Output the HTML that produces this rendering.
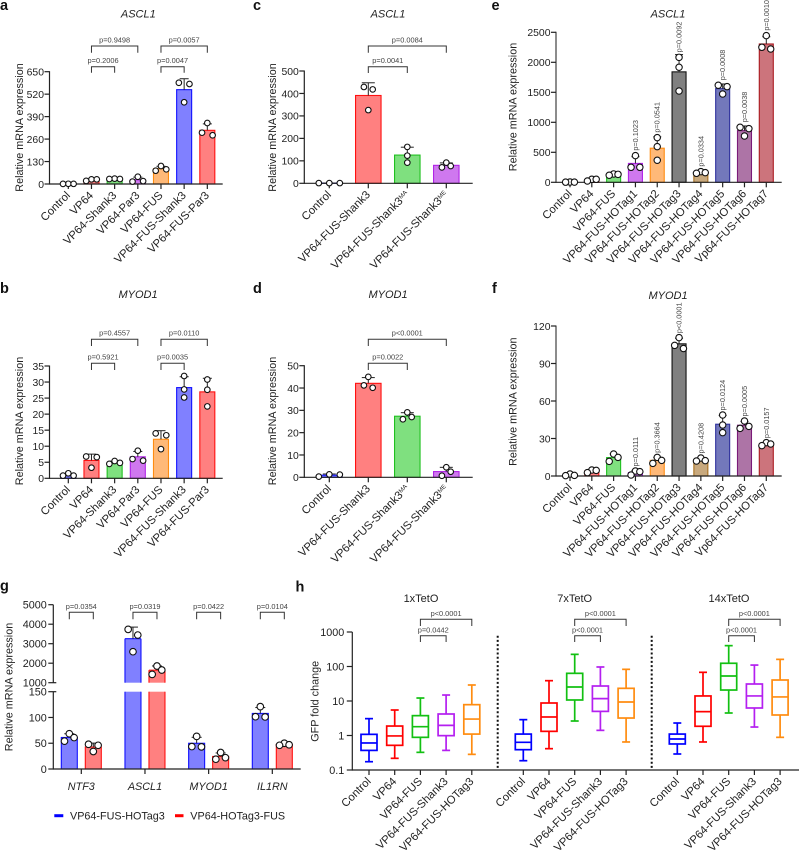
<!DOCTYPE html>
<html lang="en">
<head>
<meta charset="utf-8">
<title>Relative mRNA expression figure</title>
<style>
html,body{margin:0;padding:0;background:#fff;}
svg{display:block;font-family:"Liberation Sans",Arial,sans-serif;}
text{fill:#222;}
.letter{font-size:14.5px;font-weight:bold;fill:#111;}
.title{font-size:11px;font-style:italic;text-anchor:middle;}
.title-plain{font-size:11px;text-anchor:middle;}
</style>
</head>
<body>
<svg id="figure" width="799" height="853" viewBox="0 0 799 853" xmlns="http://www.w3.org/2000/svg">
  <rect width="799" height="853" fill="#fff"/>
  <text class="letter" x="0" y="10">a</text>
  <text class="letter" x="253" y="10">c</text>
  <text class="letter" x="491.5" y="10">e</text>
  <text class="letter" x="0" y="293">b</text>
  <text class="letter" x="253" y="293">d</text>
  <text class="letter" x="492" y="293">f</text>
  <text class="letter" x="0" y="590.5">g</text>
  <text class="letter" x="295.5" y="591.5">h</text>
  <text class="title" x="138.3" y="17.5">ASCL1</text>
  <text class="title" x="138" y="298">MYOD1</text>
  <text class="title" x="388" y="17.5">ASCL1</text>
  <text class="title" x="388" y="298">MYOD1</text>
  <text class="title" x="668" y="17.5">ASCL1</text>
  <text class="title" x="668" y="299">MYOD1</text>
  <text class="title-plain" x="421" y="602">1xTetO</text>
  <text class="title-plain" x="574.7" y="602">7xTetO</text>
  <text class="title-plain" x="729" y="602">14xTetO</text>
  <line x1="54.3" x2="63.3" y1="815.7" y2="815.7" stroke="#0000ff" stroke-width="3"/>
  <text x="70" y="819.5" font-size="10.8">VP64-FUS-HOTag3</text>
  <line x1="175" x2="183.5" y1="815.7" y2="815.7" stroke="#ff0000" stroke-width="3"/>
  <text x="190.3" y="819.5" font-size="10.8">VP64-HOTag3-FUS</text>
</svg>
<script>
// ---------- Panel a ----------
const aCategories = ['Control','VP64','VP64-Shank3','VP64-Par3','VP64-FUS','VP64-FUS-Shank3','VP64-FUS-Par3'];
const aReplicates = [[0.8,1,1.2],[18,27,27],[29,31,29],[42,14,17],[77,104,85],[586,473,579],[282,353,297]];
const aTicks = [0,130,260,390,520,650];
const aBrackets = [[1,2,'p=0.2006',0],[1,3,'p=0.9498',1],[4,5,'p=0.0047',0],[4,6,'p=0.0057',1]];
// ---------- Panel b ----------
const bCategories = ['Control','VP64','VP64-Shank3','VP64-Par3','VP64-FUS','VP64-FUS-Shank3','VP64-FUS-Par3'];
const bReplicates = [[0.83,1.56,0.83],[6.8,6.6,3.3],[4.5,5.4,4.8],[5.5,8.6,6.0],[14,13.4,9.1],[31.9,27.7,25.2],[30.8,27.6,22.4]];
const bTicks = [0,5,10,15,20,25,30,35];
const bBrackets = [[1,2,'p=0.5921',0],[1,3,'p=0.4557',1],[4,5,'p=0.0035',0],[4,6,'p=0.0110',1]];
// ---------- Panel c ----------
const cCategories = ['Control','VP64-FUS-Shank3','VP64-FUS-Shank3^MA','VP64-FUS-Shank3^ME'];
const cReplicates = [[1,1,1],[429,418,326],[162,123,92],[92,71,77]];
const cTicks = [0,100,200,300,400,500];
const cBrackets = [[1,2,'p=0.0041',0],[1,3,'p=0.0084',1]];
// ---------- Panel d ----------
const dCategories = ['Control','VP64-FUS-Shank3','VP64-FUS-Shank3^MA','VP64-FUS-Shank3^ME'];
const dReplicates = [[0.3,1.3,1.2],[40.1,45,41.2],[26,29.1,27],[0.7,4.5,2.5]];
const dTicks = [0,10,20,30,40,50];
const dBrackets = [[1,2,'p=0.0022',0],[1,3,'p<0.0001',1]];
// ---------- Panel e ----------
const eCategories = ['Control','VP64','VP64-FUS','VP64-FUS-HOTag1','VP64-FUS-HOTag2','VP64-FUS-HOTag3','VP64-FUS-HOTag4','VP64-FUS-HOTag5','VP64-FUS-HOTag6','Vp64-FUS-HOTag7'];
const eReplicates = [[3,5,2],[22,50,50],[117,139,133],[250,250,444],[744,594,367],[2083,1917,1522],[150,178,161],[1617,1594,1472],[917,894,772],[2222,2250,2444]];
const eTicks = [0,500,1000,1500,2000,2500];
const ePValues = ['','','','p=0.1023','p=0.0541','p=0.0092','p=0.0334','p=0.0008','p=0.0038','p=0.0010'];
// ---------- Panel f ----------
const fCategories = ['Control','VP64','VP64-FUS','VP64-FUS-HOTag1','VP64-FUS-HOTag2','VP64-FUS-HOTag3','VP64-FUS-HOTag4','VP64-FUS-HOTag5','VP64-FUS-HOTag6','Vp64-FUS-HOTag7'];
const fReplicates = [[0.3,1.6,0.5],[2.7,4.8,4.5],[11.7,17.6,14.9],[0.8,4,3.5],[10.1,14.9,12.5],[102,110.7,104.5],[12,14.4,12.3],[48.8,40.8,34.7],[44,38.1,39.7],[24.3,26.7,25.6]];
const fTicks = [0,30,60,90,120];
const fPValues = ['','','','p=0.0111','p=0.3664','p<0.0001','p=0.4208','p=0.0124','p=0.0005','p=0.0157'];
// ---------- Panel g ----------
const gCategories = ['NTF3','ASCL1','MYOD1','IL1RN'];
const gSeriesFusHotag3 = [[54,68.5,61],[3735,3444,2590],[43,43.5,63.3],[101,101.5,121]];
const gSeriesHotag3Fus = [[48,34,46],[1855,1650,1427],[32,19,22],[46,47,50]];
const gPValues = ['p=0.0354','p=0.0319','p=0.0422','p=0.0104'];
const gLowerTicks = [0,50,100,150];
const gUpperTicks = [1000,2000,3000,4000,5000];
// ---------- Panel h ----------
const hCategories = ['Control','VP64','VP64-FUS','VP64-FUS-Shank3','VP64-FUS-HOTag3'];
const hTicks = [0.1,1,10,100,1000];
const h1xLow = [0.174,0.218,0.325,0.37,0.284];
const h1xQ1 = [0.37,0.519,0.885,0.99,1.10];
const h1xMedian = [0.607,0.97,1.80,1.97,3.0];
const h1xQ3 = [1.08,1.88,3.76,4.2,7.83];
const h1xHigh = [3.08,5.48,12.2,14.9,29.1];
const h7xLow = [0.186,0.415,2.63,1.41,0.649];
const h7xQ1 = [0.388,1.32,10.7,5.0,3.21];
const h7xMedian = [0.634,3.44,25.5,11.7,9.35];
const h7xQ3 = [1.10,8.75,63.4,27.2,23.3];
const h7xHigh = [2.88,38.8,225,96.8,82.8];
const h14xLow = [0.291,0.649,4.49,1.76,0.885];
const h14xQ1 = [0.568,1.85,20.8,6.27,3.93];
const h14xMedian = [0.793,4.91,53,14,13.1];
const h14xQ3 = [1.10,14.0,124,31.1,40.6];
const h14xHigh = [2.30,67.8,402,110,161];
const h1xPValues = ['p=0.0442','p<0.0001'];
const h7xPValues = ['p<0.0001','p<0.0001'];
const h14xPValues = ['p<0.0001','p<0.0001'];

// ---------- Styles ----------
const palette = {
  blue:['#8080ff','#1010ff'], red:['#ff8080','#ff1010'], green:['#7fe07f','#20c020'],
  purple:['#cf78ef','#b024e6'], orange:['#ffb978','#ff8c10'], gray:['#808080','#111111'],
  tan:['#c8a97e','#a9701e'], navy:['#7378bb','#2e309c'], mauve:['#ad74a6','#7a1a78'], rose:['#cc747c','#aa1a20']
};
const svg = document.getElementById('figure');
const NS = 'http://www.w3.org/2000/svg';
const INK = '#222';
const AXIS_W = 1.2;
const CAT_SIZE = 11.3;
const TICK_SIZE = 10.4;

function make(tag, attrs, name) {
  const el = document.createElementNS(NS, tag);
  for (const k in attrs) { el.setAttribute(k, attrs[k]); }
  
  
  svg.appendChild(el);
  return el;
}
function line(x1, y1, x2, y2, stroke, w, name) {
  return make('line', {x1:x1, y1:y1, x2:x2, y2:y2, stroke:stroke, 'stroke-width':w}, name);
}
function label(x, y, str, size, anchor, name, extra) {
  const t = make('text', Object.assign({x:x, y:y, 'font-size':size, 'text-anchor':anchor}, extra || {}), name);
  t.textContent = str;
  return t;
}
function rotatedCategory(x, y, str, name) {
  const parts = str.split('^');
  const t = make('text', {'font-size':CAT_SIZE, 'text-anchor':'end', transform:'translate(' + x + ',' + y + ') rotate(-45)'}, name);
  t.appendChild(document.createTextNode(parts[0]));
  if (parts[1]) {
    const s = document.createElementNS(NS, 'tspan');
    s.setAttribute('font-size', '6');
    s.setAttribute('dy', '-3.5');
    s.textContent = parts[1];
    t.appendChild(s);
  }
  return t;
}
function meanOf(a) { return a.reduce(function (s, v) { return s + v; }, 0) / a.length; }
function sdOf(a) {
  const m = meanOf(a);
  return Math.sqrt(a.reduce(function (s, v) { return s + (v - m) * (v - m); }, 0) / (a.length - 1));
}
// Swarm layout: dots closer than `gap` px in y are spread side by side.
function swarm(values, yFn, gap, spread) {
  const order = values.map(function (v, i) { return {v:v, i:i, y:yFn(v)}; }).sort(function (a, b) { return a.y - b.y; });
  const out = [];
  let cluster = [];
  function flush() {
    if (cluster.length === 1) { out.push({v:cluster[0].v, dx:0}); }
    if (cluster.length === 2) { out.push({v:cluster[0].v, dx:-spread}); out.push({v:cluster[1].v, dx:spread}); }
    if (cluster.length >= 3) {
      out.push({v:cluster[0].v, dx:0});
      out.push({v:cluster[1].v, dx:spread});
      out.push({v:cluster[2].v, dx:-spread});
    }
    cluster = [];
  }
  order.forEach(function (d) {
    if (cluster.length && d.y - cluster[cluster.length - 1].y >= gap) { flush(); }
    cluster.push(d);
  });
  flush();
  return out;
}
function bracket(xa, xb, yTop, yBot, textY, str, name) {
  const d = 'M' + xa + ' ' + yBot + 'V' + yTop + 'H' + xb + 'V' + yBot;
  make('path', {d:d, fill:'none', stroke:'#333', 'stroke-width':1}, name + '-bracket');
  const t = label((xa + xb) / 2, textY, str, 7.4, 'middle', name + '-label');
  t.setAttribute('style', 'fill:#444');
}

function drawBars(c) {
  const xs = function (i) { return c.first + i * c.step; };
  const ymax = c.ticks[c.ticks.length - 1];
  const ys = function (v) { return c.yBase - v / ymax * (c.yBase - c.yTop); };
  c.replicates.forEach(function (vals, i) {
    const m = meanOf(vals), sd = sdOf(vals), col = palette[c.colors[i]], x = xs(i);
    make('rect', {x:x - c.barW / 2, y:ys(m), width:c.barW, height:Math.max(0, c.yBase - ys(m)), fill:col[0], stroke:col[1], 'stroke-width':1.1}, c.id + '-bar-' + i);
    line(x, ys(m), x, ys(m + sd), INK, 1, c.id + '-error-stem-' + i);
    line(x - c.capW / 2, ys(m + sd), x + c.capW / 2, ys(m + sd), INK, 1, c.id + '-error-cap-' + i);
  });
  // axes
  line(c.axisX, c.yTop - 0.5, c.axisX, c.yBase + 0.6, c.axisColor, c.axisW, c.id + '-y-axis');
  line(c.axisX, c.yBase, c.xEnd, c.yBase, INK, AXIS_W, c.id + '-x-axis');
  c.ticks.forEach(function (t) {
    line(c.axisX - 5, ys(t), c.axisX, ys(t), INK, AXIS_W, c.id + '-y-tick-' + t);
    label(c.axisX - 5.5, ys(t) + 3.8, String(t), TICK_SIZE, 'end', c.id + '-y-tick-label-' + t);
  });
  c.categories.forEach(function (name, i) {
    line(xs(i), c.yBase, xs(i), c.yBase + 5, INK, AXIS_W, c.id + '-x-tick-' + i);
    rotatedCategory(xs(i) + c.catDx, c.yBase + c.catDy, name, c.id + '-x-label-' + i);
  });
  label(0, 0, 'Relative mRNA expression', 10.8, 'middle', c.id + '-y-axis-title', {transform:'translate(' + c.titleX + ',' + c.titleY + ') rotate(-90)'});
  // dots
  c.replicates.forEach(function (vals, i) {
    const spread = c.wideFirst && i === 0 ? c.wideFirst : c.spread;
    swarm(vals, ys, c.dotR * 2 - 0.5, spread).forEach(function (d, k) {
      make('circle', {cx:xs(i) + d.dx, cy:ys(d.v), r:c.dotR, fill:'#fff', stroke:'#111', 'stroke-width':1.1}, c.id + '-dot-' + i + '-' + k);
    });
  });
  // significance brackets
  (c.brackets || []).forEach(function (b, k) {
    const g = b[3] === 0 ? c.lowBracket : c.highBracket;
    bracket(xs(b[0]), xs(b[1]), g[0], g[1], g[0] - 3.6, b[2], c.id + '-significance-' + k);
  });
  // vertical p values
  (c.pValues || []).forEach(function (p, i) {
    if (!p) { return; }
    const top = Math.max.apply(null, c.replicates[i]);
    const t = label(0, 0, p, 7.3, 'start', c.id + '-p-value-' + i, {transform:'translate(' + (xs(i) + 2.5) + ',' + (ys(top) - c.pGap) + ') rotate(-90)'});
    t.setAttribute('style', 'fill:#444');
  });
}

const colors7 = ['blue','red','green','purple','orange','blue','red'];
const colors4 = ['blue','red','green','purple'];
const colors10 = ['blue','red','green','purple','orange','gray','tan','navy','mauve','rose'];

const commonA = {first:68.3, step:23.17, barW:15, capW:9, dotR:2.8, spread:5.3, axisX:49.5, xEnd:222.7, axisColor:INK, axisW:AXIS_W, catDx:2.5, catDy:12, titleX:23, colors:colors7};
drawBars(Object.assign({}, commonA, {id:'panel-a', categories:aCategories, replicates:aReplicates, ticks:aTicks, yTop:71.7, yBase:184, titleY:127.5, brackets:aBrackets, lowBracket:[66.7,72.7], highBracket:[46,52.7]}));
drawBars(Object.assign({}, commonA, {id:'panel-b', categories:bCategories, replicates:bReplicates, ticks:bTicks, yTop:366, yBase:478.3, titleY:421, brackets:bBrackets, lowBracket:[363.3,370], highBracket:[339.3,346]}));
const commonC = {first:329.3, step:39, barW:25.5, capW:13, dotR:2.8, spread:4.4, wideFirst:10.5, axisX:304.3, xEnd:472.7, axisColor:INK, axisW:AXIS_W, catDx:2.5, catDy:12, titleX:276, colors:colors4};
drawBars(Object.assign({}, commonC, {id:'panel-c', categories:cCategories, replicates:cReplicates, ticks:cTicks, yTop:71, yBase:183.3, titleY:127.5, brackets:cBrackets, lowBracket:[66.7,73], highBracket:[46,52.7]}));
drawBars(Object.assign({}, commonC, {id:'panel-d', categories:dCategories, replicates:dReplicates, ticks:dTicks, yTop:365.7, yBase:477.3, titleY:421, brackets:dBrackets, lowBracket:[363.3,370], highBracket:[339.3,346]}));
const commonE = {first:570, step:21.81, barW:14, capW:8, dotR:3.2, spread:4.4, axisX:556, xEnd:781.7, axisColor:'#666', axisW:1.5, catDx:2.5, catDy:12, titleX:516.7, colors:colors10};
drawBars(Object.assign({}, commonE, {id:'panel-e', categories:eCategories, replicates:eReplicates, ticks:eTicks, yTop:32.3, yBase:182.3, titleY:107, pValues:ePValues, pGap:5}));
drawBars(Object.assign({}, commonE, {id:'panel-f', categories:fCategories, replicates:fReplicates, ticks:fTicks, yTop:326, yBase:476, titleY:401.7, pValues:fPValues, pGap:4.5}));

// ---------- Panel g (broken axis) ----------
(function () {
  const axisX = 53.3, base = 769, lowTop = 691.7, upBase = 682.7, upTop = 604.7;
  const lowMax = gLowerTicks[gLowerTicks.length - 1];
  const upMin = gUpperTicks[0], upMax = gUpperTicks[gUpperTicks.length - 1];
  const yLow = function (v) { return base - v / lowMax * (base - lowTop); };
  const yUp = function (v) { return upBase - (v - upMin) / (upMax - upMin) * (upBase - upTop); };
  const y = function (v) { return v <= lowMax ? yLow(v) : yUp(v); };
  const center = function (i) { return 81.3 + i * 63.67; };
  const series = [
    {key:'fus-hotag3', data:gSeriesFusHotag3, col:palette.blue, off:-12},
    {key:'hotag3-fus', data:gSeriesHotag3Fus, col:palette.red, off:12}
  ];
  series.forEach(function (s) {
    s.data.forEach(function (vals, i) {
      const m = meanOf(vals), sd = sdOf(vals), x = center(i) + s.off, w = 16;
      const id = 'panel-g-' + s.key + '-' + i;
      if (m <= lowMax) {
        make('rect', {x:x - w / 2, y:yLow(m), width:w, height:base - yLow(m), fill:s.col[0], stroke:s.col[1], 'stroke-width':1.1}, id + '-bar');
      } else {
        make('rect', {x:x - w / 2, y:lowTop, width:w, height:base - lowTop, fill:s.col[0]}, id + '-bar-lower');
        line(x - w / 2, lowTop, x - w / 2, base, s.col[1], 1.1, id + '-bar-lower-left-edge');
        line(x + w / 2, lowTop, x + w / 2, base, s.col[1], 1.1, id + '-bar-lower-right-edge');
        make('rect', {x:x - w / 2, y:yUp(m), width:w, height:upBase - yUp(m), fill:s.col[0]}, id + '-bar-upper');
        line(x - w / 2, yUp(m), x + w / 2, yUp(m), s.col[1], 1.1, id + '-bar-upper-top-edge');
        line(x - w / 2, yUp(m), x - w / 2, upBase, s.col[1], 1.1, id + '-bar-upper-left-edge');
        line(x + w / 2, yUp(m), x + w / 2, upBase, s.col[1], 1.1, id + '-bar-upper-right-edge');
      }
      line(x, y(m), x, y(m + sd), INK, 1, id + '-error-stem');
      line(x - 5, y(m + sd), x + 5, y(m + sd), INK, 1, id + '-error-cap');
    });
  });
  line(axisX, base + 0.6, axisX, lowTop, INK, AXIS_W, 'panel-g-y-axis-lower');
  line(axisX, upBase, axisX, upTop, INK, AXIS_W, 'panel-g-y-axis-upper');
  line(axisX, base, 300.7, base, INK, AXIS_W, 'panel-g-x-axis');
  gLowerTicks.forEach(function (t) {
    line(axisX - 5, yLow(t), axisX + (t === lowMax ? 3 : 0), yLow(t), INK, AXIS_W, 'panel-g-y-tick-' + t);
    label(axisX - 6.5, yLow(t) + 3.8, String(t), 10.8, 'end', 'panel-g-y-tick-label-' + t);
  });
  gUpperTicks.forEach(function (t) {
    line(axisX - 5, yUp(t), axisX + (t === upMin ? 3 : 0), yUp(t), INK, AXIS_W, 'panel-g-y-tick-' + t);
    label(axisX - 6.5, yUp(t) + 3.8, String(t), 10.8, 'end', 'panel-g-y-tick-label-' + t);
  });
  gCategories.forEach(function (c, i) {
    line(center(i), base, center(i), base + 5, INK, AXIS_W, 'panel-g-x-tick-' + i);
    label(center(i), 790, c, 10.8, 'middle', 'panel-g-x-label-' + i, {'font-style':'italic'});
    bracket(center(i) - 12, center(i) + 12, 612.3, 619.3, 609, gPValues[i], 'panel-g-significance-' + i);
  });
  label(0, 0, 'Relative mRNA expression', 10.8, 'middle', 'panel-g-y-axis-title', {transform:'translate(12.7,687) rotate(-90)'});
  series.forEach(function (s) {
    s.data.forEach(function (vals, i) {
      swarm(vals, y, 6, 4.8).forEach(function (d, k) {
        make('circle', {cx:center(i) + s.off + d.dx, cy:y(d.v), r:3.3, fill:'#fff', stroke:'#111', 'stroke-width':1.1}, 'panel-g-' + s.key + '-dot-' + i + '-' + k);
      });
    });
  });
})();

// ---------- Panel h (log box plots) ----------
(function () {
  const axisX = 352.3, base = 770, top = 632;
  const decades = Math.log10(hTicks[hTicks.length - 1]) - Math.log10(hTicks[0]);
  const y = function (v) { return base - (Math.log10(v) - Math.log10(hTicks[0])) / decades * (base - top); };
  const boxColors = ['#0000ff','#ff0000','#12c012','#b41ff0','#ff8c10'];
  const groups = [
    {key:'1x', start:369, low:h1xLow, q1:h1xQ1, med:h1xMedian, q3:h1xQ3, high:h1xHigh, p:h1xPValues},
    {key:'7x', start:523.3, low:h7xLow, q1:h7xQ1, med:h7xMedian, q3:h7xQ3, high:h7xHigh, p:h7xPValues},
    {key:'14x', start:677.3, low:h14xLow, q1:h14xQ1, med:h14xMedian, q3:h14xQ3, high:h14xHigh, p:h14xPValues}
  ];
  line(axisX, top, axisX, base + 0.6, INK, AXIS_W, 'panel-h-y-axis');
  line(axisX, base, 799, base, INK, AXIS_W, 'panel-h-x-axis');
  hTicks.forEach(function (t) {
    line(axisX - 5.5, y(t), axisX, y(t), INK, AXIS_W, 'panel-h-y-tick-' + t);
    label(axisX - 8, y(t) + 3.8, String(t), 10.8, 'end', 'panel-h-y-tick-label-' + t);
  });
  label(0, 0, 'GFP fold change', 10.8, 'middle', 'panel-h-y-axis-title', {transform:'translate(318.3,701.3) rotate(-90)'});
  groups.forEach(function (g) {
    const xs = function (i) { return g.start + i * 25.7; };
    hCategories.forEach(function (c, i) {
      const id = 'panel-h-' + g.key + '-' + i;
      const col = boxColors[i], x = xs(i), w = 16, sw = 1.7;
      line(x, y(g.low[i]), x, y(g.q1[i]), col, sw, id + '-whisker-low');
      line(x, y(g.q3[i]), x, y(g.high[i]), col, sw, id + '-whisker-high');
      line(x - 4, y(g.low[i]), x + 4, y(g.low[i]), col, sw, id + '-cap-low');
      line(x - 4, y(g.high[i]), x + 4, y(g.high[i]), col, sw, id + '-cap-high');
      make('rect', {x:x - w / 2, y:y(g.q3[i]), width:w, height:y(g.q1[i]) - y(g.q3[i]), fill:'#fff', stroke:col, 'stroke-width':sw}, id + '-box');
      line(x - w / 2, y(g.med[i]), x + w / 2, y(g.med[i]), col, sw, id + '-median');
      line(x, base, x, base + 5, INK, AXIS_W, id + '-x-tick');
      rotatedCategory(x + 2.5, base + 12, c, id + '-x-label');
    });
    bracket(xs(2), xs(3), 635.7, 642, 632.5, g.p[0], 'panel-h-' + g.key + '-significance-0');
    bracket(xs(2), xs(4), 619.3, 626, 615.8, g.p[1], 'panel-h-' + g.key + '-significance-1');
  });
  make('line', {x1:497.7, x2:497.7, y1:635.7, y2:770, stroke:'#111', 'stroke-width':2, 'stroke-dasharray':'2 2.2'}, 'divider-1x-7x');
  make('line', {x1:651.7, x2:651.7, y1:635.7, y2:770, stroke:'#111', 'stroke-width':2, 'stroke-dasharray':'2 2.2'}, 'divider-7x-14x');
})();
</script>
</body>
</html>
